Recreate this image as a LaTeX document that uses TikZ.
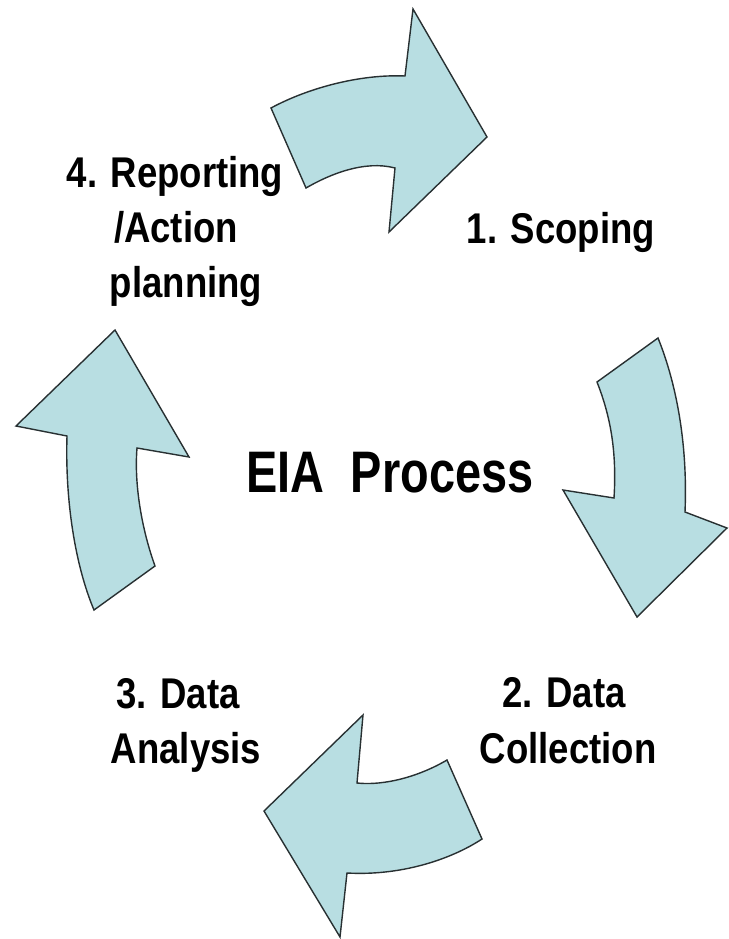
\documentclass[tikz,border=0pt]{standalone}
\usepackage{fontspec}
\newfontfamily\lblfont{Liberation Sans Bold}[FakeStretch=0.85]
\newfontfamily\titlefont{Liberation Sans Bold}[FakeStretch=0.8]
\definecolor{cyclefill}{RGB}{184,222,226}
\definecolor{cycleedge}{RGB}{40,48,50}
\begin{document}
\begin{tikzpicture}[x=1pt,y=-1pt,
  cyclearrow/.style={fill=cyclefill,draw=cycleedge,line width=1.4pt,line join=miter},
  steplabel/.style={font=\lblfont\fontsize{43}{55}\selectfont,anchor=base,inner sep=0pt},
  titlelabel/.style={font=\titlefont\fontsize{58.6}{70}\selectfont,anchor=base,inner sep=0pt}]
\useasboundingbox (0,0) rectangle (728,939);

% top arrow: reporting -> scoping
\path[cyclearrow] (271,108) .. controls (308,88) and (360,74) .. (405,76)
  -- (413,9) -- (487,137) -- (389,232) -- (395,168)
  .. controls (365,160) and (330,174) .. (306,188) -- cycle;

% right arrow: scoping -> data collection
\path[cyclearrow] (597,382) -- (658,338)
  .. controls (675,380) and (688,440) .. (685,512)
  -- (727,528) -- (637,617) -- (563,490) -- (614,498)
  .. controls (617,450) and (610,415) .. (597,382) -- cycle;

% bottom arrow: data collection -> data analysis
\path[cyclearrow] (447,760) .. controls (420,776) and (385,786) .. (357,783)
  -- (363,715) -- (264,811) -- (340,937) -- (347,873)
  .. controls (400,876) and (450,860) .. (482,839) -- cycle;

% left arrow: data analysis -> reporting
\path[cyclearrow] (115,330) -- (189,457) -- (137,448)
  .. controls (134,485) and (142,530) .. (155,566)
  -- (94,610)
  .. controls (75,565) and (65,500) .. (67,436)
  -- (16,426) -- cycle;

% step labels
\node[steplabel] (rep1) at (175,187) {4. Reporting};
\node[steplabel] (rep2) at (176,242) {/Action};
\node[steplabel] (rep3) at (186,297) {planning};
\node[steplabel] (scop) at (561,243) {1. Scoping};
\node[steplabel] (coll1) at (564,707) {2. Data};
\node[steplabel] (coll2) at (568,763) {Collection};
\node[steplabel] (anal1) at (178,708) {3. Data};
\node[steplabel] (anal2) at (186,763) {Analysis};

% centre title
\node[titlelabel] (title) at (390,492) {EIA\ \ Process};
\end{tikzpicture}
\end{document}
